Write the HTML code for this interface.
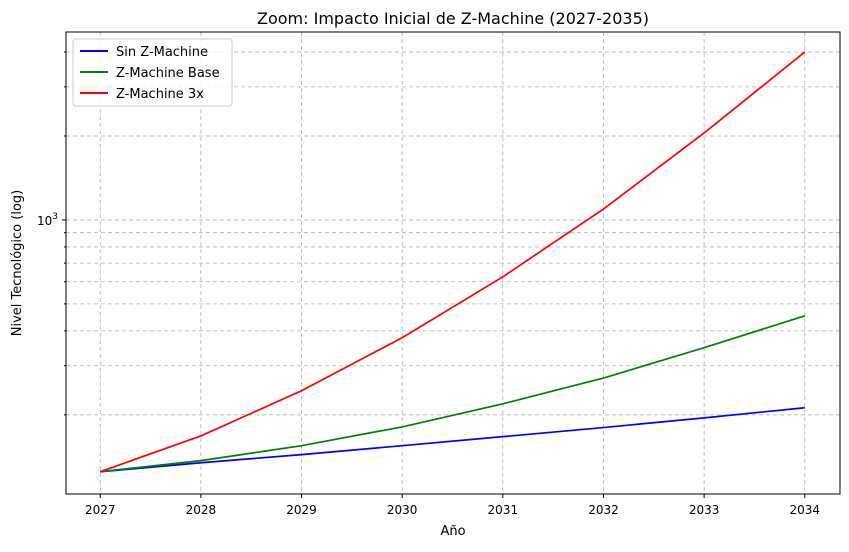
<!DOCTYPE html>
<html><head><meta charset="utf-8"><style>
body{margin:0;background:#fff;font-family:"Liberation Sans","DejaVu Sans",sans-serif;}
svg text{font-family:"DejaVu Sans","Liberation Sans",sans-serif;}
</style></head><body>
<svg id="chart" width="849" height="547" xmlns="http://www.w3.org/2000/svg">
<rect width="849" height="547" fill="#fff"/>
<g id="grid"></g>
<g id="series"></g>
<rect x="66" y="32" width="774" height="462" fill="none" stroke="#000" stroke-width="1"/>
<g id="axes"></g>
<text x="453" y="24" font-size="16" text-anchor="middle">Zoom: Impacto Inicial de Z-Machine (2027-2035)</text>
<text x="453" y="535" font-size="13" text-anchor="middle">Año</text>
<text transform="translate(21,263) rotate(-90)" font-size="13" text-anchor="middle">Nivel Tecnológico (log)</text>
<g>
<rect x="73" y="39" width="159" height="67" fill="#fff" fill-opacity="0.8" stroke="#ccc" rx="3"/>
<line x1="80" y1="51" x2="108" y2="51" stroke="blue" stroke-width="2"/><text x="116" y="56" font-size="13">Sin Z-Machine</text>
<line x1="80" y1="72" x2="108" y2="72" stroke="green" stroke-width="2"/><text x="116" y="77" font-size="13">Z-Machine Base</text>
<line x1="80" y1="93" x2="108" y2="93" stroke="red" stroke-width="2"/><text x="116" y="98" font-size="13">Z-Machine 3x</text>
</g>
</svg>
<script>
const years=[2027,2028,2029,2030,2031,2032,2033,2034];
const sinZ=[125,134.6,144,155,167,180,195,212];
const zBase=[125,137,155,181,219,271,348,453];
const z3x=[125,168,244,378,625,1094,2050,4000];
const yMinorTicks=[200,300,400,500,600,700,800,900,2000,3000,4000];
const yMajorTicks=[1000];
const NS="http://www.w3.org/2000/svg";
const X0=66,X1=840,Y0=494,Y1=32;
const xmin=2026.66,xmax=2034.35,ymin=104,ymax=4720;
function sx(v){return X0+(v-xmin)/(xmax-xmin)*(X1-X0);}
function sy(v){return Y0-(Math.log10(v)-Math.log10(ymin))/(Math.log10(ymax)-Math.log10(ymin))*(Y0-Y1);}
function mk(tag,attrs,parent){const e=document.createElementNS(NS,tag);for(const k in attrs)e.setAttribute(k,attrs[k]);parent.appendChild(e);return e;}
const grid=document.getElementById('grid'),axes=document.getElementById('axes'),series=document.getElementById('series');
years.forEach(y=>{
  const x=sx(y);
  const g=mk('line',{x1:x,x2:x,y1:Y1,y2:Y0,stroke:'#b0b0b0','stroke-dasharray':'4,3','stroke-width':0.8},grid);
  
  
  const t=mk('line',{x1:x,x2:x,y1:Y0,y2:Y0+4,stroke:'#000'},axes);
  
  
  const l=mk('text',{x:x,y:Y0+20,'font-size':12,'text-anchor':'middle'},axes);l.textContent=y;
  
  
});
yMinorTicks.concat(yMajorTicks).forEach(v=>{
  const y=sy(v);
  const g=mk('line',{x1:X0,x2:X1,y1:y,y2:y,stroke:'#b0b0b0','stroke-dasharray':'4,3','stroke-width':0.8},grid);
  
  
  const major=yMajorTicks.includes(v);
  const t=mk('line',{x1:X0-(major?4:2),x2:X0,y1:y,y2:y,stroke:'#000'},axes);
  
  
});
yMajorTicks.forEach(v=>{
  const l=mk('text',{x:X0-8,y:sy(v)+5,'font-size':12,'text-anchor':'end'},axes);
  l.innerHTML='10<tspan dy="-6" font-size="9">'+Math.round(Math.log10(v))+'</tspan>';
  
  
});
[[sinZ,'blue','line-sin-z-machine'],[zBase,'green','line-z-machine-base'],[z3x,'red','line-z-machine-3x']].forEach(([d,c,n])=>{
  const p=mk('polyline',{points:d.map((v,i)=>sx(years[i])+','+sy(v)).join(' '),fill:'none',stroke:c,'stroke-width':1.7},series);
  
  
});
</script>
</body></html>
